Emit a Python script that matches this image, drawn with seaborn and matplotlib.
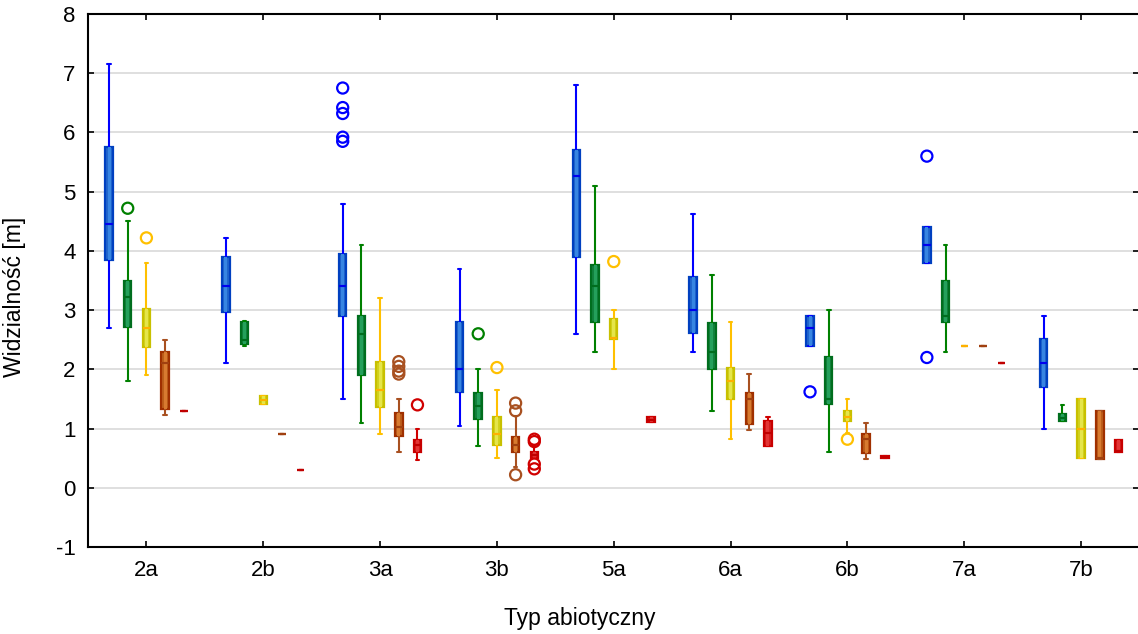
import pandas as pd
import seaborn as sns
import matplotlib.pyplot as plt

kategorie = ['2a', '2b', '3a', '3b', '5a', '6a', '6b', '7a', '7b']
grupy = ['niebieska', 'zielona', 'zolta', 'pomaranczowa', 'czerwona']

# min, Q1, mediana, Q3, max dla kazdego typu (None = brak danych)
niebieska = [(2.7, 3.85, 4.45, 5.75, 7.15), (2.1, 2.97, 3.4, 3.9, 4.22), (1.5, 2.9, 3.4, 3.95, 4.8),
             (1.05, 1.62, 2.0, 2.8, 3.7), (2.6, 3.9, 5.27, 5.7, 6.8), (2.3, 2.62, 3.0, 3.56, 4.62),
             (2.4, 2.4, 2.7, 2.9, 2.9), (3.8, 3.8, 4.1, 4.4, 4.4), (1.0, 1.7, 2.1, 2.52, 2.9)]
zielona = [(1.8, 2.72, 3.22, 3.5, 4.5), (2.4, 2.42, 2.5, 2.8, 2.82), (1.1, 1.9, 2.6, 2.9, 4.1),
           (0.7, 1.16, 1.38, 1.6, 2.0), (2.3, 2.8, 3.4, 3.77, 5.1), (1.3, 2.0, 2.3, 2.78, 3.6),
           (0.6, 1.42, 1.5, 2.2, 3.0), (2.3, 2.8, 2.9, 3.5, 4.1), (1.12, 1.12, 1.17, 1.24, 1.4)]
zolta = [(1.9, 2.37, 2.7, 3.02, 3.8), (1.42, 1.42, 1.48, 1.55, 1.55), (0.9, 1.37, 1.65, 2.13, 3.2),
         (0.5, 0.72, 0.9, 1.2, 1.65), (2.0, 2.52, 2.53, 2.85, 3.0), (0.83, 1.5, 1.8, 2.02, 2.8),
         (0.93, 1.12, 1.2, 1.3, 1.5), (2.4, 2.4, 2.4, 2.4, 2.4), (0.5, 0.5, 1.0, 1.5, 1.5)]
pomaranczowa = [(1.23, 1.33, 2.1, 2.3, 2.5), (0.9, 0.9, 0.9, 0.9, 0.9), (0.6, 0.88, 1.03, 1.27, 1.5),
                (0.35, 0.6, 0.72, 0.85, 1.22), None, (0.97, 1.08, 1.5, 1.6, 1.92),
                (0.48, 0.59, 0.82, 0.91, 1.1), (2.4, 2.4, 2.4, 2.4, 2.4), (0.49, 0.49, 0.5, 1.3, 1.3)]
czerwona = [(1.3, 1.3, 1.3, 1.3, 1.3), (0.3, 0.3, 0.3, 0.3, 0.3), (0.47, 0.6, 0.72, 0.8, 1.0),
            (0.5, 0.5, 0.55, 0.6, 0.7), (1.11, 1.11, 1.15, 1.2, 1.2), (0.7, 0.7, 0.93, 1.12, 1.2),
            (0.5, 0.5, 0.52, 0.54, 0.54), (2.1, 2.1, 2.1, 2.1, 2.1), (0.6, 0.6, 0.62, 0.8, 0.8)]

# wartosci odstajace
odst_typ = ['3a', '3a', '3a', '3a', '3a', '6b', '7a', '7a',
            '2a', '3b',
            '2a', '3b', '5a', '6b',
            '3a', '3a', '3a', '3a', '3b', '3b', '3b',
            '3a', '3b', '3b', '3b', '3b']
odst_grupa = ['niebieska'] * 8 + ['zielona'] * 2 + ['zolta'] * 4 + ['pomaranczowa'] * 7 + ['czerwona'] * 5
odst_wart = [6.75, 6.42, 6.32, 5.92, 5.85, 1.62, 5.6, 2.2,
             4.72, 2.6,
             4.22, 2.03, 3.82, 0.82,
             2.13, 2.05, 1.97, 1.92, 1.43, 1.3, 0.22,
             1.4, 0.82, 0.78, 0.4, 0.32]

wypelnienie = {'niebieska': '#0560e8', 'zielona': '#00943a', 'zolta': '#f0f000',
               'pomaranczowa': '#d85a00', 'czerwona': '#f00000'}
srodek = {'niebieska': '#1a82ff', 'zielona': '#10b458', 'zolta': '#ffff30',
          'pomaranczowa': '#f47814', 'czerwona': '#ff1818'}
obramowanie = {'niebieska': '#0040c0', 'zielona': '#006e1e', 'zolta': '#c8c000',
               'pomaranczowa': '#a03000', 'czerwona': '#c80000'}
wasy = {'niebieska': '#0000ff', 'zielona': '#008000', 'zolta': '#ffc000',
        'pomaranczowa': '#a85020', 'czerwona': '#d00000'}
mediany = {'niebieska': '#0000ee', 'zielona': '#006e1e', 'zolta': '#ffb000',
           'pomaranczowa': '#a04010', 'czerwona': '#c00000'}

rows = []
for grupa, staty in zip(grupy, [niebieska, zielona, zolta, pomaranczowa, czerwona]):
    for kat, s in zip(kategorie, staty):
        if s is None:
            continue
        for v in s:
            rows.append({'typ': kat, 'grupa': grupa, 'widzialnosc': v})
data = pd.DataFrame(rows)
odstajace = pd.DataFrame({'typ': odst_typ, 'grupa': odst_grupa, 'widzialnosc': odst_wart})

sns.set_style('ticks')
plt.rcParams['font.family'] = ['Liberation Sans', 'DejaVu Sans']
plt.rcParams['axes.unicode_minus'] = False

fig = plt.figure(figsize=(11.38, 6.34), dpi=100)
ax = fig.add_axes([88 / 1138, 87 / 634, 1051.5 / 1138, 533 / 634])

for grupa in grupy:
    sub = data[data['grupa'] == grupa]
    sns.boxplot(data=sub, x='typ', y='widzialnosc', hue='grupa', order=kategorie, hue_order=grupy,
                palette=wypelnienie, whis=(0, 100), width=0.8, gap=0.6, dodge=True,
                linecolor=obramowanie[grupa], linewidth=1.6,
                whiskerprops={'color': wasy[grupa], 'linewidth': 1.5},
                capprops={'color': wasy[grupa], 'linewidth': 1.5},
                medianprops={'color': mediany[grupa], 'linewidth': 1.5}, legend=False, ax=ax)
    # jasniejszy pasek w srodku pudelka (cieniowanie jak w oryginale)
    sns.boxplot(data=sub, x='typ', y='widzialnosc', hue='grupa', order=kategorie, hue_order=grupy,
                palette=srodek, whis=(0, 100), width=0.8, gap=0.84, dodge=True,
                linecolor=mediany[grupa], linewidth=0, showcaps=False,
                whiskerprops={'linewidth': 0},
                medianprops={'color': mediany[grupa], 'linewidth': 1.5}, legend=False, ax=ax)

n_przed = len(ax.collections)
sns.stripplot(data=odstajace, x='typ', y='widzialnosc', hue='grupa', order=kategorie, hue_order=grupy,
              palette=wasy, dodge=True, jitter=False, size=8, linewidth=1.6, legend=False, ax=ax)
for coll in ax.collections[n_przed:]:
    fc = coll.get_facecolors()
    coll.set_edgecolors(fc)
    coll.set_facecolors('none')

ax.set_xlim(-0.5, 8.5)
ax.set_ylim(-1, 8)
ax.set_yticks(range(-1, 9))
ax.yaxis.grid(True, color='#d9d9d9', linewidth=1.2)
ax.set_axisbelow(True)
for s in ax.spines.values():
    s.set_visible(True)
    s.set_color('black')
    s.set_linewidth(1.5)
ax.tick_params(direction='in', length=4, width=1.2, top=True, right=True,
               labelsize=16, pad=9, colors='black')

ax.set_xlabel('Typ abiotyczny', fontsize=16.5, va='center', color='black')
ax.set_ylabel('Widzialność [m]', fontsize=16.5, va='center', color='black')
ax.xaxis.set_label_coords((580 - 88) / 1052, -(618 - 547) / 533)
ax.yaxis.set_label_coords((14 - 88) / 1052, (547 - 297) / 533)

fig.savefig('out.png', dpi=100)
